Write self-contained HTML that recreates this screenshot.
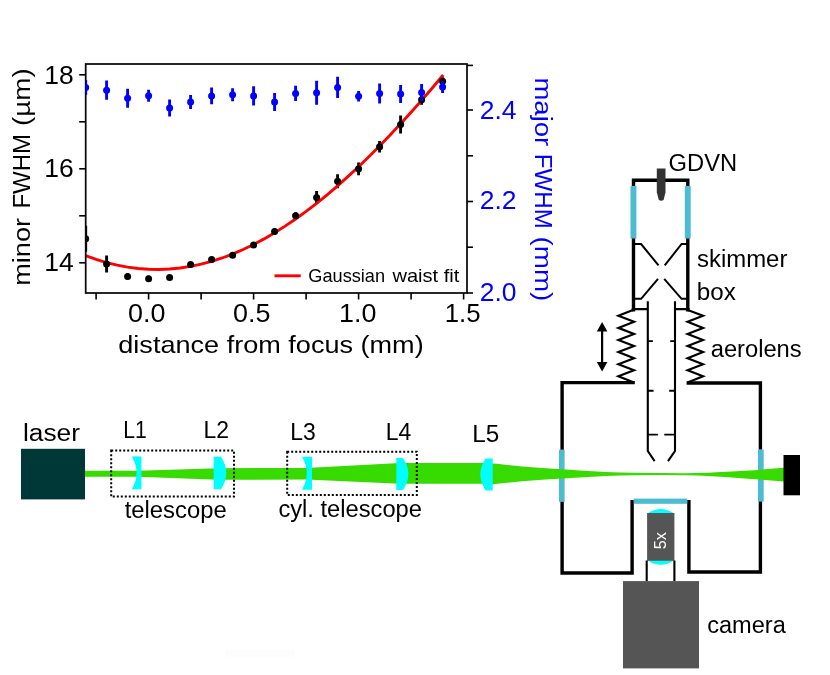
<!DOCTYPE html>
<html>
<head>
<meta charset="utf-8">
<title>Laser focusing setup and beam waist measurement</title>
<style>
html,body{margin:0;padding:0;background:#ffffff;}
body{width:830px;height:675px;overflow:hidden;font-family:"Liberation Sans",sans-serif;}
svg{display:block;will-change:transform;}
text{font-family:"Liberation Sans",sans-serif;}
.tk{font-size:24.6px;fill:#000;}
.tkb{font-size:24.6px;fill:#0000ff;}
.lab{font-size:23.5px;fill:#000;}
.tl{font-size:26px;fill:#000;}
.tlb{font-size:26px;fill:#0000ff;}
</style>
</head>
<body>
<svg width="830" height="675" viewBox="0 0 830 675">
<rect x="0" y="0" width="830" height="675" fill="#ffffff"/>
<rect x="225" y="650" width="70" height="6.5" fill="#fcfcfc"/>

<g id="chart">
<clipPath id="axclip"><rect x="85.7" y="64.0" width="381.3" height="229.0"/></clipPath>
<g clip-path="url(#axclip)">
<line x1="85.7" y1="225.8" x2="85.7" y2="251.8" stroke="#000" stroke-width="2.9"/>
<line x1="106.6" y1="255.5" x2="106.6" y2="272.5" stroke="#000" stroke-width="2.9"/>
<line x1="127.6" y1="273.5" x2="127.6" y2="279.5" stroke="#000" stroke-width="2.9"/>
<line x1="148.6" y1="275.7" x2="148.6" y2="281.7" stroke="#000" stroke-width="2.9"/>
<line x1="169.6" y1="275.1" x2="169.6" y2="280.1" stroke="#000" stroke-width="2.9"/>
<line x1="190.6" y1="261.9" x2="190.6" y2="266.9" stroke="#000" stroke-width="2.9"/>
<line x1="211.6" y1="257.0" x2="211.6" y2="262.0" stroke="#000" stroke-width="2.9"/>
<line x1="232.6" y1="252.7" x2="232.6" y2="257.7" stroke="#000" stroke-width="2.9"/>
<line x1="253.6" y1="241.9" x2="253.6" y2="247.9" stroke="#000" stroke-width="2.9"/>
<line x1="274.6" y1="228.4" x2="274.6" y2="234.4" stroke="#000" stroke-width="2.9"/>
<line x1="295.6" y1="212.2" x2="295.6" y2="219.2" stroke="#000" stroke-width="2.9"/>
<line x1="316.6" y1="191.1" x2="316.6" y2="204.1" stroke="#000" stroke-width="2.9"/>
<line x1="337.6" y1="174.2" x2="337.6" y2="188.2" stroke="#000" stroke-width="2.9"/>
<line x1="358.6" y1="162.4" x2="358.6" y2="175.2" stroke="#000" stroke-width="2.9"/>
<line x1="379.6" y1="141.1" x2="379.6" y2="152.5" stroke="#000" stroke-width="2.9"/>
<line x1="400.6" y1="115.4" x2="400.6" y2="133.4" stroke="#000" stroke-width="2.9"/>
<line x1="421.6" y1="94.8" x2="421.6" y2="104.8" stroke="#000" stroke-width="2.9"/>
<line x1="442.6" y1="77.3" x2="442.6" y2="85.3" stroke="#000" stroke-width="2.9"/>
<polyline points="85.6,255.7 96.1,259.4 106.6,262.6 117.1,265.1 127.6,267.1 138.1,268.5 148.6,269.3 159.1,269.5 169.6,269.0 180.1,268.0 190.6,266.4 201.1,264.2 211.6,261.4 222.1,258.0 232.6,254.1 243.1,249.5 253.6,244.5 264.1,238.9 274.6,232.8 285.1,226.1 295.6,219.0 306.1,211.4 316.6,203.3 327.1,194.8 337.6,185.8 348.1,176.4 358.6,166.7 369.1,156.5 379.6,146.0 390.1,135.1 400.6,123.8 411.1,112.3 421.6,100.4 432.1,88.2 443.2,75.0" fill="none" stroke="#ff0000" stroke-width="2.9" stroke-linecap="butt"/>
<circle cx="85.7" cy="238.8" r="3.5" fill="#000"/>
<circle cx="106.6" cy="264.0" r="3.5" fill="#000"/>
<circle cx="127.6" cy="276.5" r="3.5" fill="#000"/>
<circle cx="148.6" cy="278.7" r="3.5" fill="#000"/>
<circle cx="169.6" cy="277.6" r="3.5" fill="#000"/>
<circle cx="190.6" cy="264.4" r="3.5" fill="#000"/>
<circle cx="211.6" cy="259.5" r="3.5" fill="#000"/>
<circle cx="232.6" cy="255.2" r="3.5" fill="#000"/>
<circle cx="253.6" cy="244.9" r="3.5" fill="#000"/>
<circle cx="274.6" cy="231.4" r="3.5" fill="#000"/>
<circle cx="295.6" cy="215.7" r="3.5" fill="#000"/>
<circle cx="316.6" cy="197.6" r="3.5" fill="#000"/>
<circle cx="337.6" cy="181.2" r="3.5" fill="#000"/>
<circle cx="358.6" cy="168.8" r="3.5" fill="#000"/>
<circle cx="379.6" cy="146.8" r="3.5" fill="#000"/>
<circle cx="400.6" cy="124.4" r="3.5" fill="#000"/>
<circle cx="421.6" cy="99.8" r="3.5" fill="#000"/>
<circle cx="442.6" cy="81.3" r="3.5" fill="#000"/>
</g>
<line x1="274.5" y1="275.8" x2="300.7" y2="275.8" stroke="#ff0000" stroke-width="2.9"/>
<text y="281.9" font-size="17.8px" fill="#000"><tspan x="308.3" textLength="76.8" lengthAdjust="spacingAndGlyphs">Gaussian</tspan> <tspan x="392.4" textLength="66.9" lengthAdjust="spacingAndGlyphs">waist fit</tspan></text>
<rect x="85.7" y="64.0" width="381.3" height="229.0" fill="none" stroke="#0a0a0a" stroke-width="1.75"/>
<g clip-path="url(#axclip)">
<line x1="85.7" y1="79.9" x2="85.7" y2="94.9" stroke="#0000ff" stroke-width="2.9"/>
<line x1="106.6" y1="80.6" x2="106.6" y2="99.8" stroke="#0000ff" stroke-width="2.9"/>
<line x1="127.6" y1="88.8" x2="127.6" y2="107.8" stroke="#0000ff" stroke-width="2.9"/>
<line x1="148.6" y1="89.8" x2="148.6" y2="101.8" stroke="#0000ff" stroke-width="2.9"/>
<line x1="169.6" y1="99.5" x2="169.6" y2="116.5" stroke="#0000ff" stroke-width="2.9"/>
<line x1="190.6" y1="95.0" x2="190.6" y2="109.0" stroke="#0000ff" stroke-width="2.9"/>
<line x1="211.6" y1="87.6" x2="211.6" y2="104.2" stroke="#0000ff" stroke-width="2.9"/>
<line x1="232.6" y1="88.3" x2="232.6" y2="101.3" stroke="#0000ff" stroke-width="2.9"/>
<line x1="253.6" y1="86.3" x2="253.6" y2="105.5" stroke="#0000ff" stroke-width="2.9"/>
<line x1="274.6" y1="93.0" x2="274.6" y2="111.0" stroke="#0000ff" stroke-width="2.9"/>
<line x1="295.6" y1="85.8" x2="295.6" y2="101.0" stroke="#0000ff" stroke-width="2.9"/>
<line x1="316.6" y1="80.7" x2="316.6" y2="104.7" stroke="#0000ff" stroke-width="2.9"/>
<line x1="337.6" y1="76.7" x2="337.6" y2="98.1" stroke="#0000ff" stroke-width="2.9"/>
<line x1="358.6" y1="91.0" x2="358.6" y2="101.4" stroke="#0000ff" stroke-width="2.9"/>
<line x1="379.6" y1="83.4" x2="379.6" y2="103.4" stroke="#0000ff" stroke-width="2.9"/>
<line x1="400.6" y1="85.1" x2="400.6" y2="103.1" stroke="#0000ff" stroke-width="2.9"/>
<line x1="421.6" y1="83.9" x2="421.6" y2="100.9" stroke="#0000ff" stroke-width="2.9"/>
<line x1="442.6" y1="81.1" x2="442.6" y2="92.9" stroke="#0000ff" stroke-width="2.9"/>
<circle cx="85.7" cy="87.4" r="3.5" fill="#0000ff"/>
<circle cx="106.6" cy="90.2" r="3.5" fill="#0000ff"/>
<circle cx="127.6" cy="98.3" r="3.5" fill="#0000ff"/>
<circle cx="148.6" cy="95.8" r="3.5" fill="#0000ff"/>
<circle cx="169.6" cy="108.0" r="3.5" fill="#0000ff"/>
<circle cx="190.6" cy="102.0" r="3.5" fill="#0000ff"/>
<circle cx="211.6" cy="95.9" r="3.5" fill="#0000ff"/>
<circle cx="232.6" cy="94.8" r="3.5" fill="#0000ff"/>
<circle cx="253.6" cy="95.9" r="3.5" fill="#0000ff"/>
<circle cx="274.6" cy="102.0" r="3.5" fill="#0000ff"/>
<circle cx="295.6" cy="93.4" r="3.5" fill="#0000ff"/>
<circle cx="316.6" cy="92.7" r="3.5" fill="#0000ff"/>
<circle cx="337.6" cy="87.4" r="3.5" fill="#0000ff"/>
<circle cx="358.6" cy="96.2" r="3.5" fill="#0000ff"/>
<circle cx="379.6" cy="93.4" r="3.5" fill="#0000ff"/>
<circle cx="400.6" cy="94.1" r="3.5" fill="#0000ff"/>
<circle cx="421.6" cy="92.4" r="3.5" fill="#0000ff"/>
<circle cx="442.6" cy="87.0" r="3.5" fill="#0000ff"/>
</g>
<line x1="79.2" y1="262.8" x2="85.7" y2="262.8" stroke="#000" stroke-width="1.6"/>
<line x1="79.2" y1="215.8" x2="85.7" y2="215.8" stroke="#000" stroke-width="1.6"/>
<line x1="79.2" y1="168.8" x2="85.7" y2="168.8" stroke="#000" stroke-width="1.6"/>
<line x1="79.2" y1="121.8" x2="85.7" y2="121.8" stroke="#000" stroke-width="1.6"/>
<line x1="79.2" y1="74.8" x2="85.7" y2="74.8" stroke="#000" stroke-width="1.6"/>
<text class="tl" x="44.2" y="270.7" textLength="29.4" lengthAdjust="spacingAndGlyphs">14</text>
<text class="tl" x="44.2" y="177.2" textLength="29.4" lengthAdjust="spacingAndGlyphs">16</text>
<text class="tl" x="44.2" y="83.7" textLength="29.4" lengthAdjust="spacingAndGlyphs">18</text>
<line x1="467.0" y1="293.0" x2="473.0" y2="293.0" stroke="#000" stroke-width="1.6"/>
<line x1="467.0" y1="247.2" x2="473.0" y2="247.2" stroke="#000" stroke-width="1.6"/>
<line x1="467.0" y1="201.5" x2="473.0" y2="201.5" stroke="#000" stroke-width="1.6"/>
<line x1="467.0" y1="155.8" x2="473.0" y2="155.8" stroke="#000" stroke-width="1.6"/>
<line x1="467.0" y1="110.0" x2="473.0" y2="110.0" stroke="#000" stroke-width="1.6"/>
<line x1="467.0" y1="65.4" x2="473.0" y2="65.4" stroke="#000" stroke-width="1.6"/>
<text class="tlb" x="479.8" y="300.9" textLength="36.8" lengthAdjust="spacingAndGlyphs">2.0</text>
<text class="tlb" x="479.8" y="209.4" textLength="36.8" lengthAdjust="spacingAndGlyphs">2.2</text>
<text class="tlb" x="479.8" y="118.6" textLength="36.8" lengthAdjust="spacingAndGlyphs">2.4</text>
<line x1="96.1" y1="293.0" x2="96.1" y2="299.5" stroke="#000" stroke-width="1.6"/>
<line x1="148.6" y1="293.0" x2="148.6" y2="299.5" stroke="#000" stroke-width="1.6"/>
<line x1="201.1" y1="293.0" x2="201.1" y2="299.5" stroke="#000" stroke-width="1.6"/>
<line x1="253.6" y1="293.0" x2="253.6" y2="299.5" stroke="#000" stroke-width="1.6"/>
<line x1="306.1" y1="293.0" x2="306.1" y2="299.5" stroke="#000" stroke-width="1.6"/>
<line x1="358.6" y1="293.0" x2="358.6" y2="299.5" stroke="#000" stroke-width="1.6"/>
<line x1="411.1" y1="293.0" x2="411.1" y2="299.5" stroke="#000" stroke-width="1.6"/>
<line x1="463.6" y1="293.0" x2="463.6" y2="299.5" stroke="#000" stroke-width="1.6"/>
<text class="tl" x="128.0" y="321.7" textLength="37.4" lengthAdjust="spacingAndGlyphs">0.0</text>
<text class="tl" x="233.1" y="321.7" textLength="37.4" lengthAdjust="spacingAndGlyphs">0.5</text>
<text class="tl" x="339.1" y="321.7" textLength="37.4" lengthAdjust="spacingAndGlyphs">1.0</text>
<text class="tl" x="444.7" y="321.7" textLength="35.8" lengthAdjust="spacingAndGlyphs">1.5</text>
<text class="tk" x="118.3" y="353.2" textLength="305.4" lengthAdjust="spacingAndGlyphs">distance from focus (mm)</text>
<text class="tk" transform="translate(30.2,284.1) rotate(-90)"><tspan x="-1.7" textLength="67.9" lengthAdjust="spacingAndGlyphs">minor</tspan> <tspan x="75.5" textLength="74.6" lengthAdjust="spacingAndGlyphs">FWHM</tspan> <tspan x="158.0" textLength="57.8" lengthAdjust="spacingAndGlyphs">(µm)</tspan></text>
<text class="tkb" transform="translate(535.4,79.4) rotate(90)"><tspan x="-2.0" textLength="68.9" lengthAdjust="spacingAndGlyphs">major</tspan> <tspan x="74.4" textLength="75.0" lengthAdjust="spacingAndGlyphs">FWHM</tspan> <tspan x="157.1" textLength="64.8" lengthAdjust="spacingAndGlyphs">(mm)</tspan></text>
</g>
<g id="setup">
<rect x="559" y="449.8" width="5.6" height="52" fill="#4dbbd0"/>
<rect x="758" y="449.6" width="5.7" height="52" fill="#4dbbd0"/>
<polygon points="85,470.8 138,470.8 218,468.2 306,468.0 400,463.0 488,463.0 492.7,463.55 497.5,463.85 507,464.95 522,466.45 542,467.9 562,469.2 584,470.68 606,472.05 620,472.5 634.5,472.8 661,473.1 685,473.15 696,473.06 708,472.73 720.5,472.11 732,471.48 744.6,470.66 759,469.89 771,468.75 784,467.7 784,481.6 771,480.55 759,479.39 744.6,478.46 732,477.48 720.5,476.71 708,475.93 696,475.46 685,475.25 661,475.0 634.5,475.3 620,475.6 606,475.95 584,477.18 562,478.5 542,479.8 522,481.25 507,482.75 497.5,483.85 492.7,484.15 488,483.7 400,483.7 306,479.6 218,479.8 138,476.7 85,476.7" fill="#38db00"/>
<rect x="21" y="448.8" width="64" height="50.6" fill="#003737"/>
<text class="lab" x="23.0" y="441.2" textLength="57" lengthAdjust="spacingAndGlyphs">laser</text>
<rect x="111.2" y="450.6" width="122.8" height="46" fill="none" stroke="#000" stroke-width="2" stroke-dasharray="2 2"/>
<rect x="287.2" y="451.7" width="129.6" height="43.4" fill="none" stroke="#000" stroke-width="2" stroke-dasharray="2 2"/>
<path d="M141.4,456.6 L131.8,456.6 Q141.4,472.95000000000005 131.8,489.3 L141.4,489.3 Z" fill="#00ffff"/>
<path d="M213.7,456.8 L221.0,456.8 Q231.60000000000002,473.05 221.0,489.3 L213.7,489.3 Z" fill="#00ffff"/>
<path d="M312.0,456.8 L302.0,456.8 Q311.6,473.25 302.0,489.7 L312.0,489.7 Z" fill="#00ffff"/>
<path d="M396.3,458.0 L403.0,458.0 Q413.79999999999995,474.0 403.0,490.0 L396.3,490.0 Z" fill="#00ffff"/>
<path d="M492.7,458.6 L485.5,458.6 Q475.1,474.5 485.5,490.4 L492.7,490.4 Z" fill="#00ffff"/>
<text class="lab" x="123.2" y="437.8" textLength="23.5" lengthAdjust="spacingAndGlyphs">L1</text>
<text class="lab" x="203.6" y="437.8" textLength="25.5" lengthAdjust="spacingAndGlyphs">L2</text>
<text class="lab" x="290.3" y="439.6" textLength="25.5" lengthAdjust="spacingAndGlyphs">L3</text>
<text class="lab" x="385.7" y="439.6" textLength="25.5" lengthAdjust="spacingAndGlyphs">L4</text>
<text class="lab" x="472.3" y="441.8" textLength="27" lengthAdjust="spacingAndGlyphs">L5</text>
<text class="lab" x="124.7" y="518.4" textLength="102" lengthAdjust="spacingAndGlyphs">telescope</text>
<text class="lab" x="278.4" y="517.4" textLength="143.6" lengthAdjust="spacingAndGlyphs">cyl. telescope</text>
<path d="M634.8,382.6 L562.1,382.6 L562.1,449.8 M562.1,501.8 L562.1,573 L632.1,573 L632.1,500" fill="none" stroke="#000" stroke-width="3.4" stroke-linejoin="miter" stroke-linecap="butt"/>
<path d="M686.6,383.0 L760.4,383.0 L760.4,449.6 M760.4,501.6 L760.4,572 L688.9,572 L688.9,500" fill="none" stroke="#000" stroke-width="3.4" stroke-linejoin="miter" stroke-linecap="butt"/>
<rect x="633.8" y="498.6" width="53.4" height="5.2" fill="#4dbbd0"/>
<rect x="783.5" y="455.0" width="16.5" height="40.3" fill="#000"/>
<path d="M633.5,309.7 L633.5,238.5 M633.5,186 L633.5,180.3 L687.8,180.3 L687.8,186 M687.8,238.5 L687.8,309.7" fill="none" stroke="#000" stroke-width="3.4" stroke-linecap="square"/>
<rect x="630.5" y="185.9" width="5.9" height="52.6" fill="#4dbbd0"/>
<rect x="684.8" y="185.9" width="5.9" height="52.6" fill="#4dbbd0"/>
<path d="M631.8,309.2 L648,309.2 M674,309.2 L689.5,309.2" fill="none" stroke="#000" stroke-width="2.3"/>
<path d="M634,244 L641.1,244 L658.5,265.4 M687,244 L681.6,244 L664.7,265.4 M634,298.8 L641.1,298.8 L658,278.9 M687,298.8 L681.6,298.8 L664.2,278.9" fill="none" stroke="#000" stroke-width="2" stroke-linejoin="miter"/>
<path d="M656.8,168.5 L665.5,168.5 L665.5,192.2 L663.6,200 Q661.2,201.4 658.8,200 L656.8,192.2 Z" fill="#333333"/>
<path d="M633.6,309.7 L618.4,315.8 L634.0,321.8 L618.4,327.9 L634.0,333.9 L618.4,340.0 L634.0,346.0 L618.4,352.1 L634.0,358.2 L618.4,364.2 L634.0,370.3 L618.4,376.3 L634.0,382.4" fill="none" stroke="#000" stroke-width="2.2" stroke-linejoin="miter"/>
<path d="M687.1,309.7 L703.0,315.8 L687.6,321.8 L703.0,327.9 L687.6,333.9 L703.0,340.0 L687.6,346.0 L703.0,352.1 L687.6,358.2 L703.0,364.2 L687.6,370.3 L703.0,376.3 L687.6,382.4" fill="none" stroke="#000" stroke-width="2.2" stroke-linejoin="miter"/>
<path d="M647.8,301.3 L647.8,451 L654.6,461.1 M675,301.3 L675,451 L668,461.1" fill="none" stroke="#000" stroke-width="2.1"/>
<path d="M647.8,341.1 L652.9,341.1 M670.2,341.1 L675,341.1 M647.8,390.8 L653.6,390.8 M669.2,390.8 L675,390.8 M647.8,434.6 L657.9,434.6 M664.3,434.6 L675,434.6" fill="none" stroke="#000" stroke-width="1.9"/>
<path d="M602.1,329 L602.1,364.5" stroke="#000" stroke-width="2.2" fill="none"/>
<path d="M602.1,321.9 L607.4,331.6 L596.8,331.6 Z M602.1,371.6 L607.4,361.9 L596.8,361.9 Z" fill="#000"/>
<path d="M647.3,513.4 Q660.8,504.4 674.3,513.4 Z" fill="#00ffff"/>
<path d="M647.8,560.4 Q660.8,569.0 673.8,560.4 Z" fill="#00ffff"/>
<rect x="647.1" y="513" width="27.3" height="47.8" fill="#555555"/>
<text transform="translate(666.0,549.2) rotate(-90)" font-size="17px" textLength="17.2" lengthAdjust="spacingAndGlyphs" fill="#ffffff">5x</text>
<path d="M646.7,560.4 L646.7,581 M674.4,560.4 L674.4,581" stroke="#000" stroke-width="2.1" fill="none"/>
<rect x="623" y="581.1" width="76" height="87.3" fill="#555555"/>
<text class="lab" x="668.6" y="170.6" textLength="68.5" lengthAdjust="spacingAndGlyphs">GDVN</text>
<text class="lab" x="697.0" y="266.5" textLength="90.4" lengthAdjust="spacingAndGlyphs">skimmer</text>
<text class="lab" x="696.8" y="299.9" textLength="39" lengthAdjust="spacingAndGlyphs">box</text>
<text class="lab" x="710.7" y="356.8" textLength="91" lengthAdjust="spacingAndGlyphs">aerolens</text>
<text class="lab" x="707.2" y="632.9" textLength="78.6" lengthAdjust="spacingAndGlyphs">camera</text>
</g>
</svg>
</body>
</html>
